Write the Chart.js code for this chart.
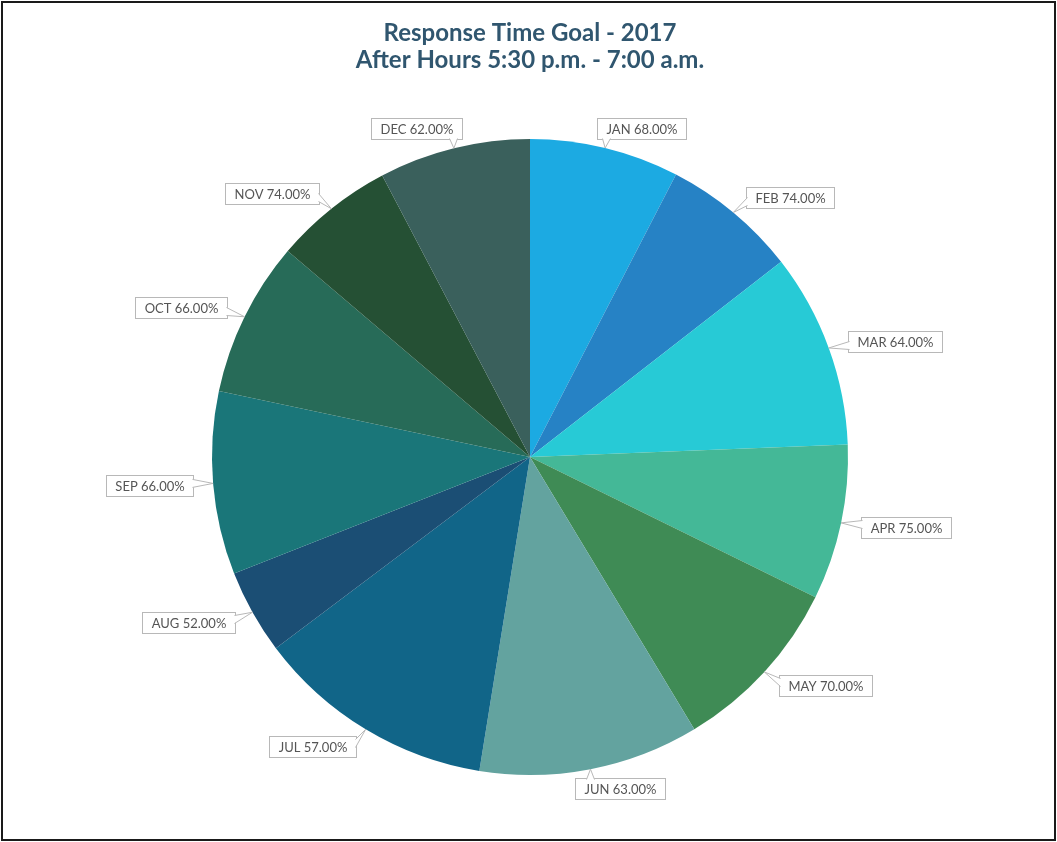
<!DOCTYPE html>
<html>
<head>
<meta charset="utf-8">
<script src="https://cdn.jsdelivr.net/npm/chart.js@4.4.1/dist/chart.umd.min.js"></script>
<style>
    body { margin: 0; background: #fff; }
    .wrap { position: relative; width: 1057px; height: 842px; }
    .frame {
        position: absolute; left: 1px; top: 1px; width: 1051px; height: 836px;
        border: 2px solid #1a1a1a; pointer-events: none;
    }
</style>
</head>
<body>
<div class="wrap">
    <canvas id="pieChart" width="1057" height="842"></canvas>
    <div class="frame"></div>
</div>
<script>
// data
const months = ['JAN', 'FEB', 'MAR', 'APR', 'MAY', 'JUN', 'JUL', 'AUG', 'SEP', 'OCT', 'NOV', 'DEC'];
const goalPct = [68, 74, 64, 75, 70, 63, 57, 52, 66, 66, 74, 62];      // shown in the labels
const sliceShare = [7.6, 6.9, 9.9, 7.9, 9.1, 11.2, 12.2, 4.3, 9.3, 7.9, 6.1, 7.7]; // slice size (%)

const sliceColors = [
    '#1caae2', '#2682c5', '#27cad6', '#44b897', '#3f8b55', '#63a39f',
    '#116588', '#1b4e74', '#1a7679', '#276b58', '#255034', '#3a605c'
];

// callout labels (box + pointer) at each slice's outer edge
const calloutLabels = {
    id: 'calloutLabels',
    afterDatasetsDraw(chart) {
        const ctx = chart.ctx;
        const meta = chart.getDatasetMeta(0);
        ctx.save();
        ctx.font = '13px Lato';
        ctx.textAlign = 'center';
        ctx.textBaseline = 'middle';
        meta.data.forEach(function(arc, i) {
            const p = arc.getProps(['x', 'y', 'startAngle', 'endAngle', 'outerRadius'], true);
            const a = (p.startAngle + p.endAngle) / 2;
            const hx = Math.cos(a), vy = Math.sin(a);
            const ax = p.x + hx * p.outerRadius;
            const ay = p.y + vy * p.outerRadius;
            const text = months[i] + ' ' + goalPct[i].toFixed(2) + '%';
            const w = ctx.measureText(text).width + 18;
            const h = 21;
            const cx = ax + hx * 20 + Math.sign(hx) * (w / 2) * Math.min(1, Math.abs(hx) * 3);
            const cy = ay + vy * 20;
            const L = Math.round(cx - w / 2) + 0.5, T = Math.round(cy - h / 2) + 0.5;
            const R = L + Math.round(w), B = T + h;

            // box
            ctx.fillStyle = '#fff';
            ctx.strokeStyle = '#b8b8b8';
            ctx.lineWidth = 1;
            ctx.fillRect(L, T, R - L, B - T);
            ctx.strokeRect(L, T, R - L, B - T);

            // pointer
            const dxOut = ax < L ? L - ax : (ax > R ? ax - R : 0);
            const dyOut = ay < T ? T - ay : (ay > B ? ay - B : 0);
            let b1, b2;
            if (dyOut >= dxOut) {
                const ey = ay > B ? B : T;
                const bx = Math.min(Math.max(ax, L + 9), R - 9);
                const inset = ay > B ? -1 : 1;
                b1 = [bx - 4, ey + inset]; b2 = [bx + 4, ey + inset];
            } else {
                const ex = ax > R ? R : L;
                const by = Math.min(Math.max(ay, T + 7), B - 7);
                const inset = ax > R ? -1 : 1;
                b1 = [ex + inset, by - 4]; b2 = [ex + inset, by + 4];
            }
            ctx.beginPath();
            ctx.moveTo(b1[0], b1[1]);
            ctx.lineTo(ax, ay);
            ctx.lineTo(b2[0], b2[1]);
            ctx.closePath();
            ctx.fill();
            ctx.beginPath();
            ctx.moveTo(b1[0], b1[1]);
            ctx.lineTo(ax, ay);
            ctx.lineTo(b2[0], b2[1]);
            ctx.stroke();

            ctx.fillStyle = '#555';
            ctx.fillText(text, (L + R) / 2, (T + B) / 2 + 0.5);
        });
        ctx.restore();
    }
};

const ctxPie = document.getElementById('pieChart').getContext('2d');
const pieChart = new Chart(ctxPie, {
    type: 'pie',
    data: {
        labels: months,
        datasets: [{
            data: sliceShare,
            backgroundColor: sliceColors,
            borderWidth: 0
        }]
    },
    options: {
        responsive: false,
        animation: false,
        layout: {
            padding: { left: 212, right: 209, top: 0, bottom: 67 }
        },
        plugins: {
            legend: { display: false },
            tooltip: { enabled: false },
            title: {
                display: true,
                text: ['Response Time Goal - 2017', 'After Hours 5:30 p.m. - 7:00 a.m.'],
                color: '#30566f',
                font: { family: 'Lato', size: 24, weight: 'bold', lineHeight: 1.125 },
                padding: { top: 20, bottom: 65 }
            }
        }
    },
    plugins: [calloutLabels]
});
</script>
</body>
</html>
